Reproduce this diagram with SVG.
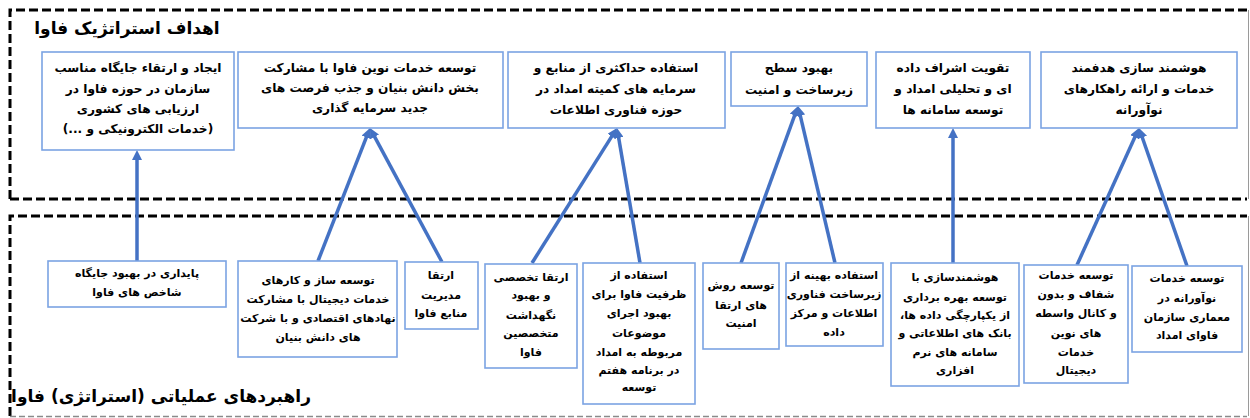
<svg xmlns="http://www.w3.org/2000/svg" width="1250" height="418" viewBox="0 0 1250 418">
<style>
.frame{fill:none;stroke:#000;stroke-width:3;stroke-dasharray:9 4}
.edge{fill:none;stroke:#9a9a9a;stroke-width:1}
.edged{fill:none;stroke:#8a8a8a;stroke-width:1.5;stroke-dasharray:6 3}
.box{fill:#fff;stroke:#7ba3e3;stroke-width:1.6}
.conn{stroke:#4472c4;stroke-width:3.5;fill:none;marker-end:url(#ah)}
.title{font-family:"DejaVu Sans",sans-serif;font-weight:bold;font-size:17px;fill:#000}
.t{font-family:"DejaVu Sans",sans-serif;font-size:12.2px;font-weight:bold;fill:#000;text-anchor:middle}
.b{font-family:"DejaVu Sans",sans-serif;font-size:11px;font-weight:bold;fill:#000;text-anchor:middle}
</style>
<defs>
<marker id="ah" markerUnits="userSpaceOnUse" markerWidth="11" markerHeight="10" refX="4" refY="5" orient="auto" viewBox="0 0 11 10">
<path d="M0,0 L10,5 L0,10 z" fill="#4472c4"/>
</marker>
</defs>
<rect width="1250" height="418" fill="#fff"/>
<g id="frames">
<path class="frame" d="M10,199 L10,10 L1247,10 M10,199 L1247,199"/>
<line class="edge" x1="1248.5" y1="10" x2="1248.5" y2="199"/>
<path class="frame" d="M10,416 L10,216 L1247,216"/>
<line class="edged" x1="10" y1="416.5" x2="1247" y2="416.5"/>
<line class="edge" x1="1248.5" y1="216" x2="1248.5" y2="416"/>
<text class="title" x="127" y="34" text-anchor="middle" direction="rtl">اهداف استراتژیک فاوا</text>
<text class="title" x="161" y="402" text-anchor="middle" direction="rtl">راهبردهای عملیاتی (استراتژی) فاوا</text>
</g>
<g id="connectors">
<line class="conn" x1="137" y1="261" x2="137" y2="156"/>
<line class="conn" x1="318" y1="261" x2="367.8" y2="133.6"/>
<line class="conn" x1="442" y1="262" x2="372.8" y2="133.3"/>
<line class="conn" x1="532" y1="263" x2="613.8" y2="133.1"/>
<line class="conn" x1="640" y1="263" x2="618" y2="133.9"/>
<line class="conn" x1="741" y1="263" x2="796" y2="111.6"/>
<line class="conn" x1="835" y1="263" x2="799.4" y2="111.8"/>
<line class="conn" x1="953" y1="263" x2="953" y2="134"/>
<line class="conn" x1="1077" y1="265" x2="1136.5" y2="133.5"/>
<line class="conn" x1="1187" y1="266" x2="1141" y2="133.7"/>
</g>
<g id="goal1">
<rect class="box" x="42" y="52" width="192" height="98"/>
<text class="t" direction="rtl"><tspan x="138" y="72">ایجاد و ارتقاء جایگاه مناسب</tspan><tspan x="138" y="93">سازمان در حوزه فاوا در</tspan><tspan x="138" y="113">ارزیابی های کشوری</tspan><tspan x="138" y="133">(خدمات الکترونیکی و ...)</tspan></text>
</g>
<g id="goal2">
<rect class="box" x="238" y="52" width="265" height="76"/>
<text class="t" direction="rtl"><tspan x="370" y="72">توسعه خدمات نوین فاوا با مشارکت</tspan><tspan x="370" y="92">بخش دانش بنیان و جذب فرصت های</tspan><tspan x="370" y="112">جدید سرمایه گذاری</tspan></text>
</g>
<g id="goal3">
<rect class="box" x="508" y="52" width="217" height="76"/>
<text class="t" direction="rtl"><tspan x="616" y="72">استفاده حداکثری از منابع و</tspan><tspan x="616" y="93">سرمایه های کمیته امداد در</tspan><tspan x="616" y="114">حوزه فناوری اطلاعات</tspan></text>
</g>
<g id="goal4">
<rect class="box" x="731" y="52" width="136" height="54"/>
<text class="t" direction="rtl"><tspan x="799" y="72">بهبود سطح</tspan><tspan x="799" y="94">زیرساخت و امنیت</tspan></text>
</g>
<g id="goal5">
<rect class="box" x="876" y="52" width="154" height="76"/>
<text class="t" direction="rtl"><tspan x="953" y="72">تقویت اشراف داده</tspan><tspan x="953" y="93">ای و تحلیلی امداد و</tspan><tspan x="953" y="114">توسعه سامانه ها</tspan></text>
</g>
<g id="goal6">
<rect class="box" x="1041" y="52" width="196" height="76"/>
<text class="t" direction="rtl"><tspan x="1139" y="72">هوشمند سازی هدفمند</tspan><tspan x="1139" y="93">خدمات و ارائه راهکارهای</tspan><tspan x="1139" y="114">نوآورانه</tspan></text>
</g>
<g id="s1">
<rect class="box" x="48" y="261" width="178" height="46"/>
<text class="b" direction="rtl"><tspan x="137" y="277">پایداری در بهبود جایگاه</tspan><tspan x="137" y="296">شاخص های فاوا</tspan></text>
</g>
<g id="s2">
<rect class="box" x="238" y="261" width="159" height="96"/>
<text class="b" direction="rtl"><tspan x="318" y="284">توسعه  ساز و کارهای</tspan><tspan x="318" y="303">خدمات دیجیتال با مشارکت</tspan><tspan x="318" y="322">نهادهای اقتصادی و با شرکت</tspan><tspan x="318" y="341">های دانش بنیان</tspan></text>
</g>
<g id="s3">
<rect class="box" x="405" y="262" width="73" height="67"/>
<text class="b" direction="rtl"><tspan x="441" y="279">ارتقا</tspan><tspan x="441" y="299">مدیریت</tspan><tspan x="441" y="317">منابع فاوا</tspan></text>
</g>
<g id="s4">
<rect class="box" x="485" y="264" width="92" height="104"/>
<text class="b" direction="rtl"><tspan x="531" y="281">ارتقا تخصصی</tspan><tspan x="531" y="299">و بهبود</tspan><tspan x="531" y="319">نگهداشت</tspan><tspan x="531" y="337">متخصصین</tspan><tspan x="531" y="356">فاوا</tspan></text>
</g>
<g id="s5">
<rect class="box" x="583" y="263" width="112" height="141"/>
<text class="b" direction="rtl"><tspan x="639" y="279">استفاده از</tspan><tspan x="639" y="298">ظرفیت فاوا برای</tspan><tspan x="639" y="317">بهبود اجرای</tspan><tspan x="639" y="337">موضوعات</tspan><tspan x="639" y="356">مربوطه به امداد</tspan><tspan x="639" y="374">در برنامه هفتم</tspan><tspan x="639" y="391">توسعه</tspan></text>
</g>
<g id="s6">
<rect class="box" x="703" y="263" width="76" height="86"/>
<text class="b" direction="rtl"><tspan x="741" y="289">توسعه روش</tspan><tspan x="741" y="309">های ارتقا</tspan><tspan x="741" y="327">امنیت</tspan></text>
</g>
<g id="s7">
<rect class="box" x="786" y="263" width="97" height="83"/>
<text class="b" direction="rtl"><tspan x="834" y="279">استفاده بهینه از</tspan><tspan x="834" y="298">زیرساخت فناوری</tspan><tspan x="834" y="317">اطلاعات  و مرکز</tspan><tspan x="834" y="336">داده</tspan></text>
</g>
<g id="s8">
<rect class="box" x="891" y="263" width="128" height="123"/>
<text class="b" direction="rtl"><tspan x="955" y="281">هوشمندسازی با</tspan><tspan x="955" y="301">توسعه بهره برداری</tspan><tspan x="955" y="319">از یکپارچگی داده ها،</tspan><tspan x="955" y="337">بانک های اطلاعاتی و</tspan><tspan x="955" y="356">سامانه های نرم</tspan><tspan x="955" y="374">افزاری</tspan></text>
</g>
<g id="s9">
<rect class="box" x="1024" y="265" width="104" height="118"/>
<text class="b" direction="rtl"><tspan x="1076" y="279">توسعه خدمات</tspan><tspan x="1076" y="298">شفاف و بدون</tspan><tspan x="1076" y="317">و کانال  واسطه</tspan><tspan x="1076" y="337">های نوین</tspan><tspan x="1076" y="356">خدمات</tspan><tspan x="1076" y="374">دیجیتال</tspan></text>
</g>
<g id="s10">
<rect class="box" x="1132" y="266" width="110" height="86"/>
<text class="b" direction="rtl"><tspan x="1187" y="282">توسعه خدمات</tspan><tspan x="1187" y="302">نوآورانه در</tspan><tspan x="1187" y="321">معماری سازمان</tspan><tspan x="1187" y="339">فاوای امداد</tspan></text>
</g>
</svg>
